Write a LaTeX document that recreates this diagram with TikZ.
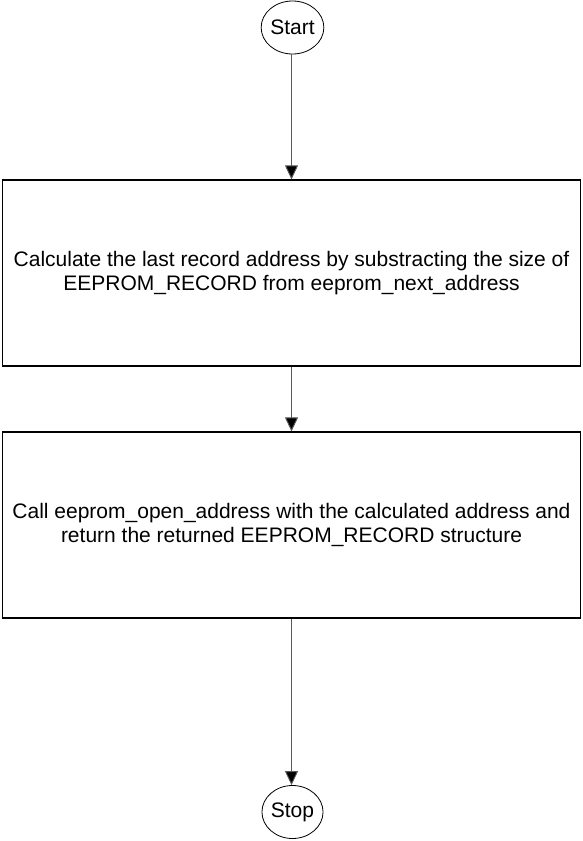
\documentclass[tikz,border=0pt]{standalone}
\usepackage{fontspec}
\setmainfont{Liberation Sans}
\usetikzlibrary{arrows.meta,shapes.geometric}
\begin{document}
\begin{tikzpicture}[x=1pt,y=-1pt,
  term/.style={draw, ellipse, minimum width=59pt, minimum height=53pt, inner sep=0pt, line width=0.8pt, font=\fontsize{21}{24}\selectfont},
  procbox/.style={draw, rectangle, minimum width=578pt, minimum height=186pt, line width=1.2pt, align=center, font=\fontsize{21}{23.5}\selectfont},
  flow/.style={line width=0.9pt, draw=black!65, -{Triangle[length=14pt,width=13pt,fill=black]}}]
\useasboundingbox (0,0) rectangle (582,841);
\node[term] (start) at (292.5,27.5) {Start};
\node[procbox] (calc) at (291.5,273) {Calculate the last record address by substracting the size of\\EEPROM\_RECORD from eeprom\_next\_address};
\node[procbox] (call) at (291.5,525) {Call eeprom\_open\_address with the calculated address and\\return the returned EEPROM\_RECORD structure};
\node[term] (stop) at (292.5,812) {Stop};
\draw[flow] (start.south -| calc.north) -- (calc.north);
\draw[flow] (calc) -- (call);
\draw[flow] (call.south) -- (stop.north -| call.south);
\end{tikzpicture}
\end{document}
